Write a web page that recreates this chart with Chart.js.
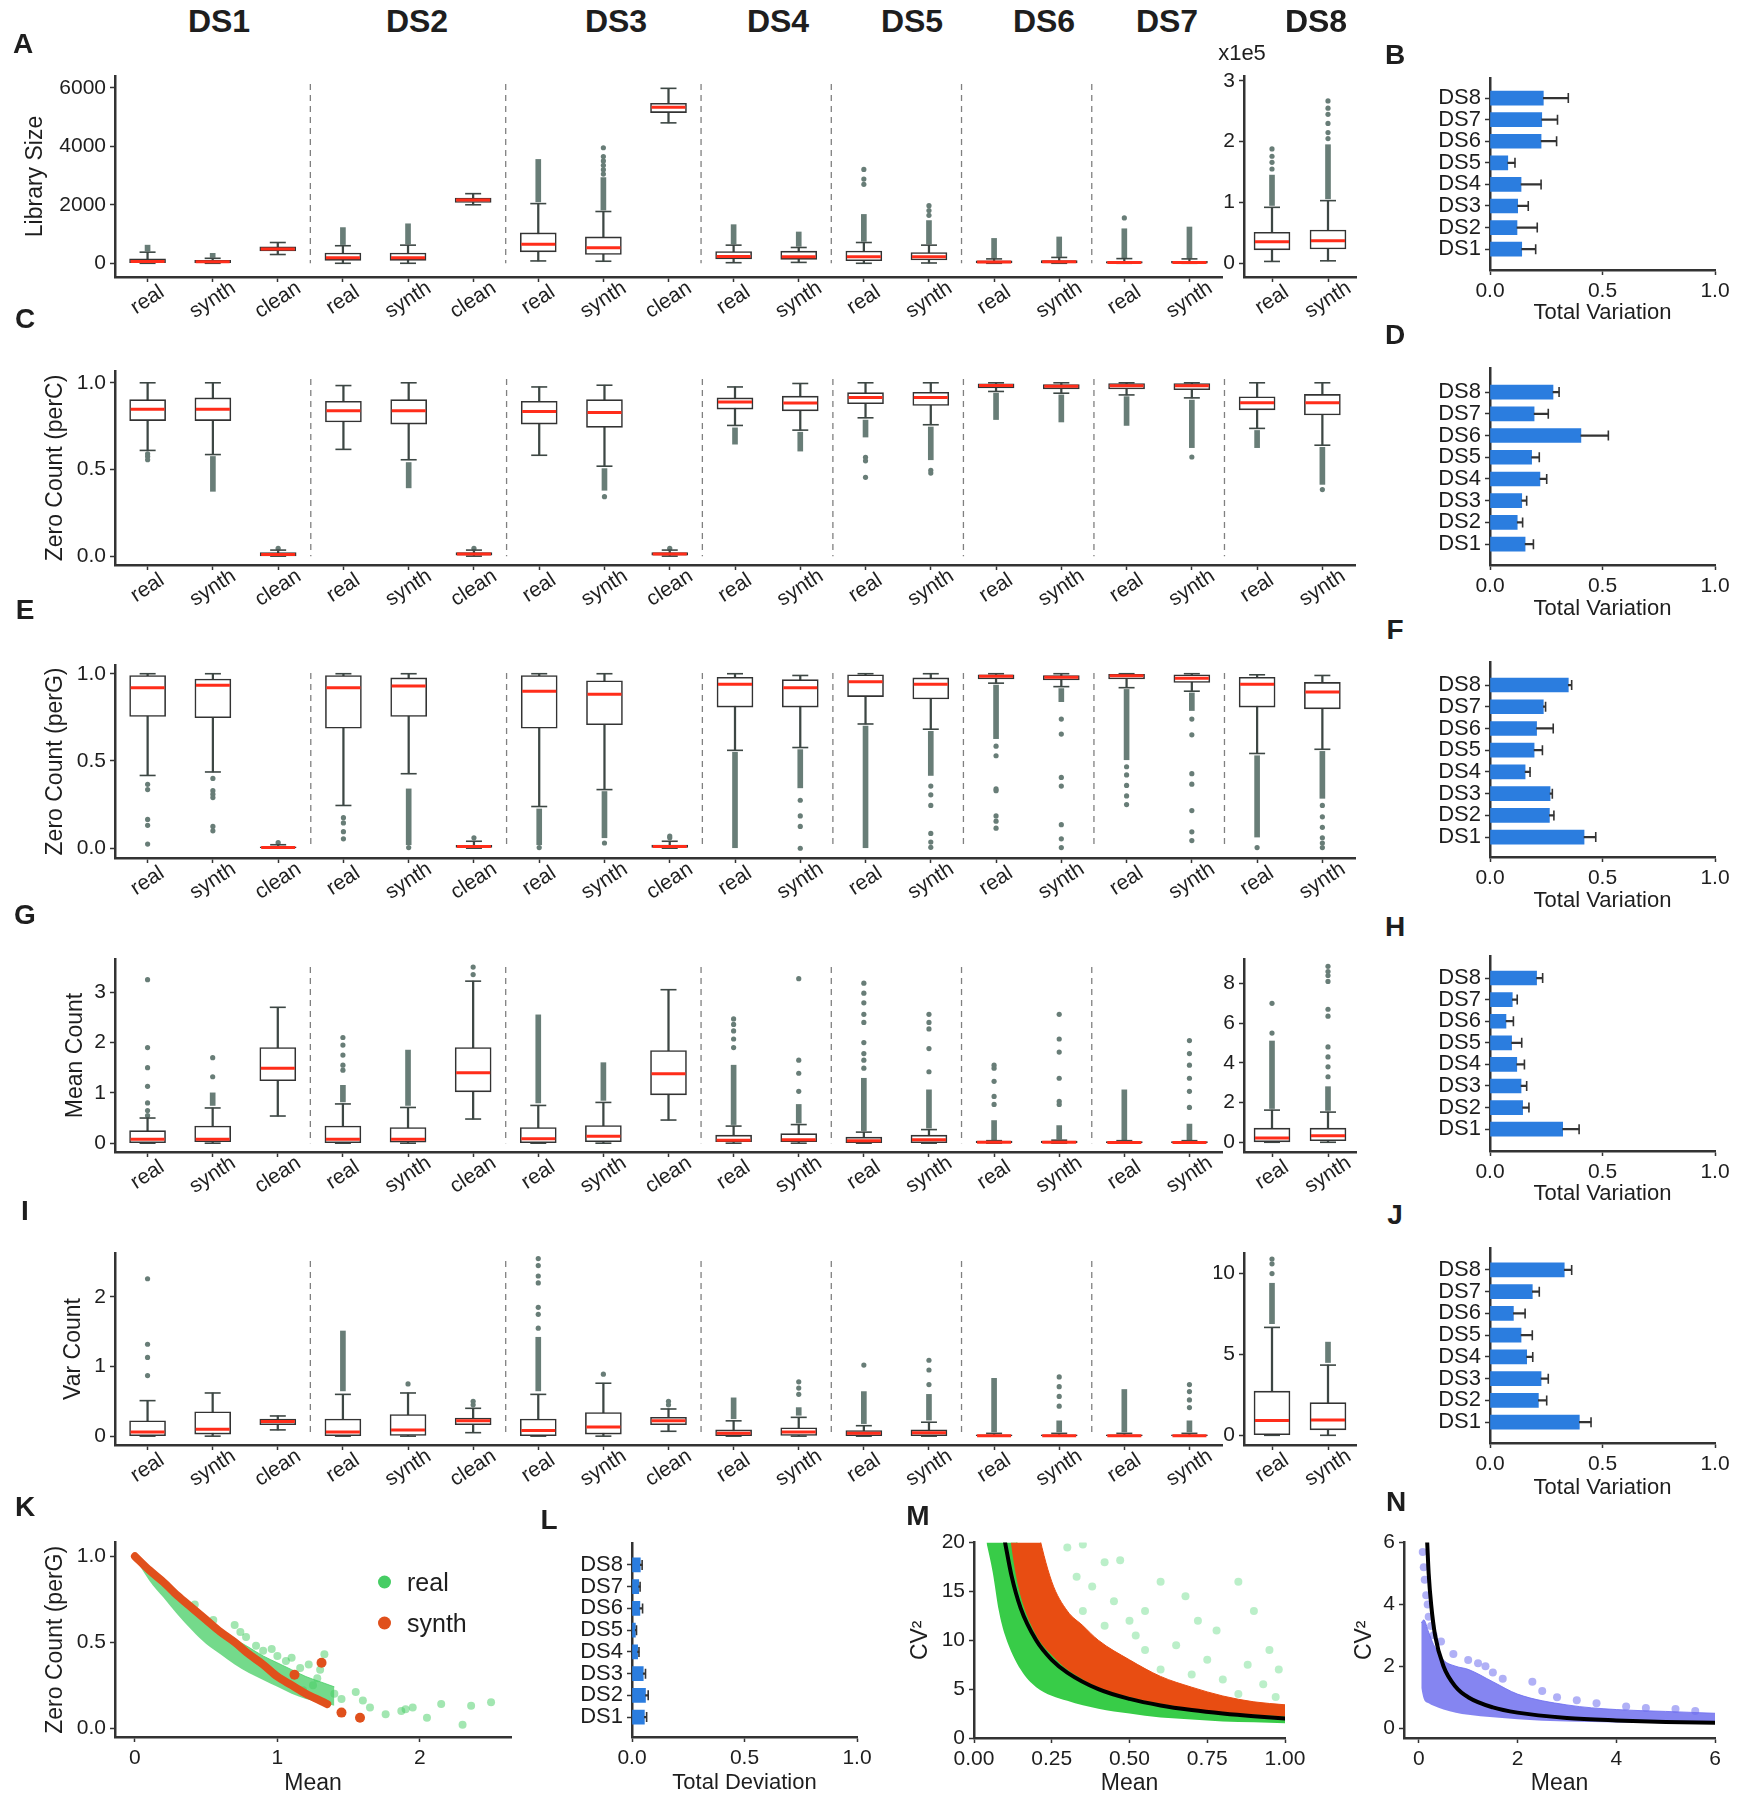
<!DOCTYPE html>
<html>
<head>
<meta charset="utf-8">
<script src="https://cdn.jsdelivr.net/npm/chart.js@4.4.1/dist/chart.umd.min.js"></script>
<style>
  html, body { margin: 0; padding: 0; background: #fff; }
  body { position: relative; width: 1740px; height: 1800px; overflow: hidden;
         font-family: "Liberation Sans", Arial, Helvetica, sans-serif; color: #1e1e1e; }
  canvas { position: absolute; }
  .t { position: absolute; transform: translate(-50%, -50%); white-space: nowrap; z-index: 2; }
  .ds { font-weight: bold; font-size: 32px; }
  .panel { font-weight: bold; font-size: 28px; }
  .unit { font-size: 22px; }
  .key { position: absolute; font-size: 25px; z-index: 2; display: flex; align-items: center; transform: translateY(-50%); }
  .key i { display: inline-block; width: 13px; height: 13px; border-radius: 50%; margin-right: 16px; }
</style>
</head>
<body>
<script>
// ---- data ----
const dsNames = ["DS1", "DS2", "DS3", "DS4", "DS5", "DS6", "DS7", "DS8"];
const groupLabels = ["real", "synth", "clean", "real", "synth", "clean", "real", "synth", "clean",
  "real", "synth", "real", "synth", "real", "synth", "real", "synth"];
const ds8Labels = ["real", "synth"];
const groupLabelsAll = groupLabels.concat(ds8Labels);

// box rows: [lower whisker, q1, median, q3, upper whisker]
const libBox = [
  [0, 20, 60, 150, 380], [0, 20, 50, 100, 170], [300, 420, 490, 560, 710],
  [0, 100, 190, 350, 600], [0, 100, 190, 350, 620], [2000, 2080, 2160, 2230, 2380],
  [80, 390, 650, 1040, 2040], [70, 300, 530, 900, 1770], [4800, 5150, 5330, 5470, 5980],
  [20, 150, 230, 400, 620], [30, 135, 225, 415, 540],
  [0, 90, 225, 420, 710], [10, 115, 225, 370, 620],
  [0, 10, 40, 80, 150], [0, 15, 50, 90, 200],
  [0, 5, 30, 60, 160], [0, 5, 30, 70, 150],
];
const libRuns = [[420, 620], [200, 340], null, [640, 1220], [660, 1350], null, [2100, 3550], [1820, 2930], null,
  [660, 1320], [580, 1070], [750, 1670], [660, 1460], [180, 850], [230, 900], [190, 1180], [180, 1240]];
const libDots = [[], [], [], [], [], [], [], [3050, 3200, 3350, 3500, 3650, 3950], [],
  [], [], [2700, 2880, 3210], [1640, 1800, 1970], [], [], [1550], []];
const libBox8 = [[0.03, 0.22, 0.355, 0.51, 0.92], [0.04, 0.235, 0.372, 0.546, 1.03]];
const libRuns8 = [[0.95, 1.45], [1.06, 1.95]];
const libDots8 = [[1.55, 1.66, 1.76, 1.88], [2.05, 2.15, 2.3, 2.45, 2.55, 2.67]];

const percBox = [
  [0.61, 0.782, 0.848, 0.903, 1.0], [0.586, 0.782, 0.848, 0.913, 1.0], [0, 0.002, 0.01, 0.02, 0.035],
  [0.616, 0.774, 0.838, 0.893, 0.984], [0.556, 0.762, 0.838, 0.903, 1.0], [0, 0.005, 0.012, 0.02, 0.035],
  [0.582, 0.762, 0.834, 0.893, 0.976], [0.519, 0.743, 0.828, 0.903, 0.986], [0, 0.006, 0.012, 0.02, 0.035],
  [0.754, 0.848, 0.889, 0.913, 0.976], [0.727, 0.838, 0.883, 0.923, 0.996],
  [0.798, 0.879, 0.915, 0.943, 1.0], [0.758, 0.869, 0.915, 0.945, 1.0],
  [0.95, 0.97, 0.984, 0.994, 1.0], [0.94, 0.965, 0.98, 0.99, 1.0],
  [0.93, 0.964, 0.983, 0.996, 1.0], [0.913, 0.96, 0.983, 0.996, 1.0],
  [0.737, 0.844, 0.885, 0.919, 1.0], [0.64, 0.814, 0.885, 0.933, 1.0],
];
const percRuns = [null, [0.374, 0.575], null, null, [0.394, 0.54], null, null, [0.38, 0.505], null,
  [0.646, 0.74], [0.606, 0.715], [0.687, 0.785], [0.556, 0.745], [0.788, 0.94], [0.774, 0.93],
  [0.754, 0.92], [0.626, 0.9], [0.626, 0.725], [0.414, 0.628]];
const percDots = [[0.59, 0.575, 0.556], [], [0.045], [], [], [0.045], [], [0.343], [0.045],
  [], [], [0.57, 0.55, 0.455], [0.495, 0.479], [], [], [], [0.572], [], [0.384]];

const pergBox = [
  [0.417, 0.755, 0.92, 0.99, 1.0], [0.437, 0.748, 0.934, 0.97, 1.0], [0, 0, 0.004, 0.008, 0.02],
  [0.245, 0.688, 0.92, 0.99, 1.0], [0.427, 0.755, 0.93, 0.976, 1.0], [0, 0.004, 0.01, 0.016, 0.04],
  [0.239, 0.688, 0.9, 0.99, 1.0], [0.336, 0.708, 0.883, 0.96, 1.0], [0, 0.004, 0.01, 0.018, 0.04],
  [0.561, 0.809, 0.94, 0.98, 1.0], [0.577, 0.809, 0.92, 0.966, 0.99],
  [0.712, 0.869, 0.954, 0.994, 1.0], [0.682, 0.855, 0.94, 0.976, 1.0],
  [0.946, 0.97, 0.985, 0.994, 1.0], [0.926, 0.964, 0.98, 0.99, 1.0],
  [0.92, 0.97, 0.988, 0.996, 1.0], [0.9, 0.95, 0.974, 0.994, 1.0],
  [0.543, 0.809, 0.94, 0.98, 0.994], [0.567, 0.799, 0.895, 0.95, 0.99],
];
const pergRuns = [null, null, null, null, [0.02, 0.34], null, [0.02, 0.225], [0.06, 0.325], null,
  [0.0, 0.55], [0.346, 0.565], [0.0, 0.7], [0.417, 0.67], [0.628, 0.935], [0.84, 0.915],
  [0.507, 0.91], [0.789, 0.89], [0.064, 0.53], [0.286, 0.555]];
const pergDots = [[0.366, 0.336, 0.165, 0.131, 0.024], [0.4, 0.33, 0.31, 0.29, 0.125, 0.1], [0.032],
  [0.175, 0.145, 0.095, 0.054], [0.004], [0.06], [0.004], [0.03], [0.06, 0.07],
  [], [0.275, 0.185, 0.125, 0.0], [], [0.356, 0.306, 0.245, 0.085, 0.035, 0.005],
  [0.585, 0.53, 0.34, 0.33, 0.185, 0.155, 0.115], [0.74, 0.654, 0.406, 0.356, 0.135, 0.054, 0.004],
  [0.467, 0.42, 0.36, 0.3, 0.25], [0.74, 0.65, 0.427, 0.367, 0.216, 0.094, 0.044],
  [0.004], [0.245, 0.18, 0.12, 0.06, 0.03, 0.004]];

const meanBox = [
  [0, 0.01, 0.08, 0.25, 0.5], [0, 0.03, 0.08, 0.34, 0.7], [0.54, 1.24, 1.49, 1.9, 2.7],
  [0, 0.01, 0.08, 0.34, 0.78], [0, 0.02, 0.08, 0.31, 0.71], [0.48, 1.02, 1.4, 1.9, 3.22],
  [0, 0.0, 0.09, 0.31, 0.75], [0, 0.03, 0.14, 0.35, 0.81], [0.46, 0.96, 1.38, 1.84, 3.05],
  [0, 0.03, 0.06, 0.16, 0.34], [0, 0.03, 0.07, 0.19, 0.37],
  [0, 0.01, 0.05, 0.12, 0.22], [0, 0.01, 0.07, 0.16, 0.27],
  [0, 0.0, 0.02, 0.04, 0.05], [0, 0.0, 0.02, 0.04, 0.06],
  [0, 0.0, 0.015, 0.03, 0.05], [0, 0.0, 0.015, 0.03, 0.05],
];
const meanRuns = [null, [0.75, 1.0], null, [0.82, 1.15], [0.75, 1.85], null, [0.8, 2.55], [0.85, 1.6], null,
  [0.37, 1.55], [0.4, 0.77], [0.25, 1.29], [0.3, 1.06], [0.07, 0.45], [0.08, 0.35], [0.07, 1.06], [0.07, 0.38]];
const meanDots = [[0.55, 0.65, 0.8, 1.13, 1.5, 1.9, 3.25], [1.32, 1.7], [], [1.45, 1.55, 1.75, 1.95, 2.1], [],
  [3.35, 3.5], [], [], [], [1.9, 2.07, 2.23, 2.36, 2.47], [1.03, 1.39, 1.65, 3.27],
  [1.49, 1.65, 1.78, 2.0, 2.4, 2.56, 2.79, 2.98, 3.18], [1.42, 1.88, 2.27, 2.4, 2.56],
  [0.77, 0.93, 1.23, 1.49, 1.55], [0.77, 0.83, 1.29, 1.81, 2.07, 2.56], [], [0.71, 1.03, 1.29, 1.55, 1.78, 2.04]];
const meanBox8 = [[0, 0.02, 0.21, 0.71, 1.62], [0, 0.08, 0.33, 0.71, 1.52]];
const meanRuns8 = [[1.7, 5.1], [1.6, 2.8]];
const meanDots8 = [[5.5, 7.0], [3.3, 3.8, 4.3, 4.8, 6.35, 6.7, 8.1, 8.4, 8.6, 8.86]];

const varBox = [
  [0, 0.0, 0.06, 0.22, 0.51], [0, 0.03, 0.1, 0.35, 0.62], [0.09, 0.165, 0.21, 0.245, 0.29],
  [0, 0.0, 0.06, 0.245, 0.6], [0, 0.01, 0.09, 0.31, 0.62], [0.05, 0.165, 0.22, 0.26, 0.4],
  [0, 0.0, 0.08, 0.245, 0.6], [0, 0.03, 0.13, 0.34, 0.76], [0.07, 0.165, 0.22, 0.27, 0.39],
  [0, 0.0, 0.04, 0.09, 0.22], [0, 0.01, 0.06, 0.12, 0.27],
  [0, 0.0, 0.04, 0.08, 0.15], [0, 0.0, 0.05, 0.09, 0.2],
  [0, 0.0, 0.005, 0.02, 0.04], [0, 0.0, 0.005, 0.02, 0.04],
  [0, 0.0, 0.005, 0.02, 0.04], [0, 0.0, 0.005, 0.02, 0.04],
];
const varRuns = [null, null, null, [0.65, 1.51], null, null, [0.65, 1.42], null, null,
  [0.25, 0.55], [0.3, 0.41], [0.18, 0.64], [0.23, 0.6], [0.06, 0.83], [0.06, 0.22], [0.06, 0.67], [0.06, 0.22]];
const varDots = [[0.87, 1.13, 1.32, 2.26], [], [], [], [0.75], [0.45, 0.5],
  [1.55, 1.75, 1.85, 2.2, 2.3, 2.45, 2.55], [0.89], [0.45, 0.5], [], [0.6, 0.69, 0.78], [1.02],
  [0.74, 0.95, 1.09], [], [0.43, 0.57, 0.71, 0.85], [], [0.41, 0.52, 0.64, 0.74]];
const varBox8 = [[0, 0.0, 0.91, 2.73, 6.67], [0, 0.34, 0.95, 2.02, 4.34]];
const varRuns8 = [[6.9, 9.4], [4.5, 5.76]];
const varDots8 = [[10.0, 10.6, 10.9], []];

// total variation bars, DS1..DS8
const tvLib = [0.141, 0.12, 0.123, 0.138, 0.079, 0.227, 0.23, 0.237];
const tvLibErr = [0.062, 0.09, 0.047, 0.089, 0.032, 0.069, 0.07, 0.111];
const tvPerc = [0.156, 0.121, 0.141, 0.222, 0.185, 0.404, 0.196, 0.28];
const tvPercErr = [0.037, 0.024, 0.022, 0.03, 0.034, 0.122, 0.063, 0.027];
const tvPerg = [0.418, 0.264, 0.267, 0.156, 0.196, 0.207, 0.237, 0.348];
const tvPergErr = [0.052, 0.02, 0.01, 0.022, 0.037, 0.074, 0.01, 0.015];
const tvMean = [0.323, 0.145, 0.138, 0.119, 0.096, 0.071, 0.099, 0.207];
const tvMeanErr = [0.073, 0.028, 0.025, 0.034, 0.045, 0.033, 0.022, 0.027];
const tvVar = [0.397, 0.215, 0.227, 0.163, 0.138, 0.104, 0.188, 0.33];
const tvVarErr = [0.052, 0.037, 0.032, 0.027, 0.05, 0.052, 0.031, 0.033];
const devVals = [0.055, 0.06, 0.05, 0.025, 0.015, 0.035, 0.03, 0.037];
const devErr = [0.01, 0.012, 0.01, 0.006, 0.005, 0.012, 0.006, 0.008];

// K: zero count vs mean
const kBandX = [0, 0.1, 0.2, 0.3, 0.4, 0.5, 0.6, 0.7, 0.8, 0.9, 1.0, 1.1, 1.2, 1.3, 1.4];
const kBandLow = [0.99, 0.86, 0.76, 0.66, 0.57, 0.49, 0.43, 0.37, 0.32, 0.28, 0.24, 0.2, 0.17, 0.15, 0.13];
const kBandHigh = [1.0, 0.94, 0.87, 0.79, 0.71, 0.64, 0.58, 0.52, 0.47, 0.42, 0.38, 0.34, 0.3, 0.27, 0.24];
const kSynthX = [0, 0.1, 0.2, 0.3, 0.4, 0.5, 0.6, 0.7, 0.8, 0.9, 1.0, 1.1, 1.2, 1.3, 1.35];
const kSynthY = [1.0, 0.92, 0.85, 0.77, 0.7, 0.63, 0.56, 0.5, 0.43, 0.37, 0.3, 0.25, 0.2, 0.16, 0.14];
const kSynthPts = [[1.31, 0.38], [1.45, 0.09], [1.58, 0.06], [1.12, 0.31]];
const kRealPts = [[0.42, 0.72], [0.55, 0.63], [0.7, 0.6], [0.74, 0.56], [0.78, 0.53], [0.85, 0.48], [0.9, 0.45],
  [0.96, 0.46], [1.0, 0.42], [1.06, 0.39], [1.1, 0.41], [1.16, 0.35], [1.22, 0.37], [1.3, 0.34], [1.33, 0.43],
  [1.28, 0.29], [1.25, 0.25], [1.4, 0.2], [1.55, 0.21], [1.6, 0.16], [1.65, 0.12], [1.76, 0.08], [1.87, 0.1],
  [1.95, 0.12], [2.05, 0.06], [2.15, 0.14], [2.3, 0.02], [2.36, 0.13], [2.5, 0.15], [1.9, 0.11], [1.45, 0.17], [1.18, 0.22]];

// M: CV^2 vs mean, real vs synth
const mGreenX = [0.04, 0.06, 0.08, 0.1, 0.15, 0.2, 0.3, 0.4, 0.5, 0.6, 0.7, 0.8, 0.9, 1.0];
const mGreenLow = [20, 17, 13, 10.5, 7, 5.2, 3.8, 3.0, 2.5, 2.1, 1.9, 1.7, 1.6, 1.5];
const mGreenHigh = [30, 30, 30, 30, 17, 13, 8.5, 6.5, 5.2, 4.4, 3.8, 3.3, 3.0, 2.8];
const mSynthX = [0.11, 0.13, 0.15, 0.2, 0.25, 0.3, 0.35, 0.4, 0.5, 0.6, 0.7, 0.8, 0.9, 1.0];
const mSynthLow = [22, 17.5, 14.5, 10.5, 8.5, 7, 6, 5.2, 4.2, 3.5, 3.0, 2.6, 2.4, 2.2];
const mSynthHigh = [30, 30, 30, 22, 16, 13, 11.5, 10, 8, 6.3, 5.2, 4.3, 3.7, 3.4];
const mRealPts = [[0.3, 19.5], [0.35, 19.8], [0.42, 18], [0.47, 18.2], [0.38, 15.5], [0.45, 14], [0.5, 12],
  [0.55, 13], [0.6, 16], [0.68, 14.5], [0.72, 12], [0.78, 11], [0.85, 16], [0.9, 13], [0.95, 9], [0.65, 9.5],
  [0.75, 8], [0.88, 7.5], [0.98, 7], [0.55, 9], [0.42, 11.5], [0.6, 7], [0.8, 6], [0.93, 5.5], [0.35, 13],
  [0.7, 6.5], [0.85, 4.5], [0.33, 16.5], [0.52, 10.5], [0.97, 4.2]];
const mFit = [[0.1, 20], [0.12, 16.7], [0.15, 13.3], [0.2, 10], [0.25, 8], [0.3, 6.7], [0.4, 5], [0.5, 4],
  [0.6, 3.33], [0.7, 2.86], [0.8, 2.5], [0.9, 2.22], [1.0, 2.0]];

// N: CV^2 vs mean, clean
const nBandX = [0.05, 0.1, 0.2, 0.3, 0.5, 0.75, 1, 1.5, 2, 3, 4, 5, 6];
const nBandLow = [1.3, 0.95, 0.8, 0.72, 0.6, 0.5, 0.43, 0.35, 0.29, 0.21, 0.18, 0.16, 0.14];
const nBandHigh = [3.4, 3.5, 3.1, 2.7, 2.2, 2.0, 1.9, 1.5, 1.1, 0.75, 0.6, 0.54, 0.48];
const nPts = [[0.08, 5.7], [0.1, 5.2], [0.12, 4.8], [0.15, 4.3], [0.18, 4.0], [0.2, 3.6], [0.25, 3.3], [0.3, 3.0],
  [0.45, 2.8], [0.7, 2.4], [1.0, 2.2], [1.2, 2.1], [1.35, 2.0], [1.5, 1.8], [1.7, 1.6], [2.3, 1.5], [2.5, 1.2],
  [2.8, 1.0], [3.2, 0.9], [3.6, 0.8], [4.2, 0.7], [4.6, 0.65], [5.2, 0.62], [5.6, 0.55]];
const nFit = [[0.17, 6], [0.2, 5], [0.25, 4], [0.33, 3], [0.5, 2], [0.75, 1.33], [1, 1], [1.5, 0.67], [2, 0.5],
  [3, 0.33], [4, 0.25], [5, 0.2], [6, 0.17]];

// tick values and their labels
const libTicks = [0, 2000, 4000, 6000], libTickText = ["0", "2000", "4000", "6000"];
const lib8Ticks = [0, 1, 2, 3], lib8TickText = ["0", "1", "2", "3"];
const fracTicks = [0, 0.5, 1], fracTickText = ["0.0", "0.5", "1.0"];
const meanTicks = [0, 1, 2, 3], meanTickText = ["0", "1", "2", "3"];
const mean8Ticks = [0, 2, 4, 6, 8], mean8TickText = ["0", "2", "4", "6", "8"];
const varTicks = [0, 1, 2], varTickText = ["0", "1", "2"];
const var8Ticks = [0, 5, 10], var8TickText = ["0", "5", "10"];
const dsTicks = [1, 2, 3, 4, 5, 6, 7, 8];
const kXTicks = [0, 1, 2], kXTickText = ["0", "1", "2"];
const mXTicks = [0, 0.25, 0.5, 0.75, 1], mXTickText = ["0.00", "0.25", "0.50", "0.75", "1.00"];
const mYTicks = [0, 5, 10, 15, 20], mYTickText = ["0", "5", "10", "15", "20"];
const nTicks = [0, 2, 4, 6], nTickText = ["0", "2", "4", "6"];

// ---- style ----
const FONT = '"Liberation Sans", Arial, Helvetica, sans-serif';
const INK = "#1e1e1e";
const DOT = "#687d77";
const WHISK = "#3d4744";
const EDGE = "#333333";
const RED = "#ff2d1a";
const BLUE = "#2b7ddf";
Chart.defaults.font.family = FONT;
Chart.defaults.color = INK;

const groupCuts = [2.5, 5.5, 8.5, 10.5, 12.5, 14.5];
const groupCutsAll = groupCuts.concat([16.5]);

function mount(area, pad) {
  const c = document.createElement("canvas");
  const w = area[2] - area[0] + pad.l + pad.r;
  const h = area[3] - area[1] + pad.t + pad.b;
  c.width = w;
  c.height = h;
  c.style.left = area[0] - pad.l + "px";
  c.style.top = area[1] - pad.t + "px";
  c.style.width = w + "px";
  c.style.height = h + "px";
  document.body.appendChild(c);
  return c;
}

function axis(o) {
  return {
    type: "linear",
    min: o.min,
    max: o.max,
    offset: false,
    afterBuildTicks: (s) => { s.ticks = o.ticks.map((v) => ({ value: v })); },
    afterFit: (s) => { if (s.isHorizontal()) s.height = o.size; else s.width = o.size; },
    ticks: {
      display: !!o.text, autoSkip: false, maxRotation: 0, minRotation: 0, padding: 4,
      font: { size: o.font || 21 }, color: INK,
      callback: (v, i) => (o.text ? o.text[i] : ""),
    },
    grid: { display: true, offset: false, drawOnChartArea: false, drawTicks: true, tickLength: 5, tickColor: EDGE, tickWidth: 1.5 },
    border: { display: true, color: EDGE, width: 2.5 },
    title: o.title
      ? { display: true, text: o.title, font: { size: o.titleSize || 23 }, color: INK, padding: 0 }
      : { display: false },
  };
}

function makeChart(area, pad, config) {
  const cv = mount(area, pad);
  config.options = Object.assign({
    responsive: false, devicePixelRatio: 1, animation: false, events: [],
    layout: { padding: { left: 0, top: pad.t, right: pad.r, bottom: 0 } },
    plugins: { legend: { display: false }, tooltip: { enabled: false } },
  }, config.options);
  return new Chart(cv.getContext("2d"), config);
}

function boxSets(box, runs, dots) {
  return [
    { type: "bar", order: 6, grouped: false, barThickness: 1.6, backgroundColor: WHISK,
      data: box.map((b, i) => ({ x: i, y: [b[0], b[4]] })) },
    { type: "bar", order: 5, grouped: false, barThickness: 5, backgroundColor: DOT,
      data: runs.map((r, i) => (r ? { x: i, y: r } : null)).filter(Boolean) },
    { type: "scatter", order: 4, pointRadius: 2.6, pointBackgroundColor: DOT, pointBorderWidth: 0,
      data: dots.flatMap((d, i) => d.map((v) => ({ x: i, y: v }))) },
    { type: "scatter", order: 3, pointStyle: "line", pointRadius: 8, pointBorderColor: WHISK, pointBorderWidth: 1.6,
      data: box.flatMap((b, i) => [{ x: i, y: b[0] }, { x: i, y: b[4] }]) },
    { type: "bar", order: 2, grouped: false, barThickness: 36, backgroundColor: "#fff",
      borderColor: EDGE, borderWidth: 1.6, borderSkipped: false,
      data: box.map((b, i) => ({ x: i, y: [b[1], b[3]] })) },
    { type: "scatter", order: 1, pointStyle: "line", pointRadius: 17, pointBorderColor: RED, pointBorderWidth: 3,
      data: box.map((b, i) => ({ x: i, y: b[2] })) },
  ];
}

function boxDecor(names, cuts) {
  return {
    id: "boxDecor",
    beforeDatasetsDraw(chart) {
      const { ctx, chartArea, scales: { x, y } } = chart;
      ctx.save();
      ctx.strokeStyle = "#808080";
      ctx.lineWidth = 1.3;
      ctx.setLineDash([6, 5]);
      cuts.forEach((c) => {
        const px = x.getPixelForValue(c);
        ctx.beginPath();
        ctx.moveTo(px, chartArea.top + 8);
        ctx.lineTo(px, y.getPixelForValue(0));
        ctx.stroke();
      });
      ctx.restore();
    },
    afterDraw(chart) {
      const { ctx, chartArea, scales: { x } } = chart;
      ctx.save();
      ctx.font = "21px " + FONT;
      ctx.fillStyle = INK;
      ctx.textAlign = "center";
      ctx.textBaseline = "middle";
      names.forEach((t, i) => {
        ctx.save();
        ctx.translate(x.getPixelForValue(i), chartArea.bottom + 23);
        ctx.rotate((-33 * Math.PI) / 180);
        ctx.fillText(t, 0, 0);
        ctx.restore();
      });
      ctx.restore();
    },
  };
}

function boxChart(area, pad, o) {
  const n = o.box.length;
  return makeChart(area, pad, {
    type: "bar",
    data: { datasets: boxSets(o.box, o.runs, o.dots) },
    options: {
      scales: {
        x: axis({ min: -0.5, max: n - 0.5, ticks: o.box.map((_, i) => i), size: pad.b }),
        y: axis({ min: o.min, max: o.max, ticks: o.ticks, text: o.tickText, size: pad.l, title: o.title }),
      },
    },
    plugins: [boxDecor(o.names, o.cuts || [])],
  });
}

function tvChart(area, pad, o) {
  return makeChart(area, pad, {
    type: "bar",
    data: {
      datasets: [
        { order: 3, grouped: false, barThickness: 14, backgroundColor: BLUE,
          data: o.vals.map((v, i) => ({ x: v, y: i + 1 })) },
        { order: 2, grouped: false, barThickness: 1.6, backgroundColor: EDGE,
          data: o.vals.map((v, i) => ({ x: [v, v + o.errs[i]], y: i + 1 })) },
        { type: "scatter", order: 1, indexAxis: "x", pointStyle: "line", pointRotation: 90, pointRadius: 5,
          pointBorderColor: EDGE, pointBorderWidth: 1.6,
          data: o.vals.map((v, i) => ({ x: v + o.errs[i], y: i + 1 })) },
      ],
    },
    options: {
      indexAxis: "y",
      scales: {
        x: axis({ min: 0, max: 1, ticks: fracTicks, text: fracTickText, size: pad.b, title: o.title, titleSize: 22 }),
        y: axis({ min: o.min, max: o.max, ticks: dsTicks, text: dsNames, size: pad.l, font: 22 }),
      },
    },
  });
}

const zip = (xs, ys) => xs.map((x, i) => ({ x, y: ys[i] }));
const pts = (pairs) => pairs.map((p) => ({ x: p[0], y: p[1] }));
const edge = (data, order) => ({ type: "line", data, order, borderColor: "rgba(0,0,0,0)", borderWidth: 1,
  pointRadius: 0, fill: false, cubicInterpolationMode: "monotone" });
const band = (data, order, color) => ({ type: "line", data, order, borderColor: color, borderWidth: 1,
  backgroundColor: color, pointRadius: 0, fill: "-1", cubicInterpolationMode: "monotone" });
const cloud = (data, order, color, r) => ({ type: "scatter", data, order, pointRadius: r,
  pointBackgroundColor: color, pointBorderWidth: 0 });
const curve = (data, order, color, w) => ({ type: "line", data, order, borderColor: color, borderWidth: w,
  pointRadius: 0, fill: false, cubicInterpolationMode: "monotone", borderCapStyle: "round" });

// ---- row A / B ----
boxChart([115, 72, 1240, 277], { l: 93, t: 16, r: 2, b: 62 }, {
  box: libBox, runs: libRuns, dots: libDots, names: groupLabels, cuts: groupCuts,
  min: -469, max: 6402, ticks: libTicks, tickText: libTickText, title: "Library Size" });
boxChart([1244, 72, 1372, 277], { l: 30, t: 16, r: 4, b: 62 }, {
  box: libBox8, runs: libRuns8, dots: libDots8, names: ds8Labels,
  min: -0.226, max: 3.08, ticks: lib8Ticks, tickText: lib8TickText });
tvChart([1490, 77, 1715, 270], { l: 60, t: 16, r: 22, b: 56 }, {
  vals: tvLib, errs: tvLibErr, min: 0.033, max: 8.92, title: "Total Variation" });

// ---- row C / D ----
boxChart([115, 367, 1373, 565], { l: 73, t: 16, r: 2, b: 62 }, {
  box: percBox, runs: percRuns, dots: percDots, names: groupLabelsAll, cuts: groupCutsAll,
  min: -0.051, max: 1.068, ticks: fracTicks, tickText: fracTickText, title: "Zero Count (perC)" });
tvChart([1490, 367, 1715, 565], { l: 60, t: 16, r: 22, b: 57 }, {
  vals: tvPerc, errs: tvPercErr, min: 0.04, max: 9.1, title: "Total Variation" });

// ---- row E / F ----
boxChart([115, 661, 1373, 858], { l: 73, t: 16, r: 2, b: 62 }, {
  box: pergBox, runs: pergRuns, dots: pergDots, names: groupLabelsAll, cuts: groupCutsAll,
  min: -0.056, max: 1.05, ticks: fracTicks, tickText: fracTickText, title: "Zero Count (perG)" });
tvChart([1490, 661, 1715, 857], { l: 60, t: 16, r: 22, b: 57 }, {
  vals: tvPerg, errs: tvPergErr, min: 0.085, max: 9.05, title: "Total Variation" });

// ---- row G / H ----
boxChart([115, 955, 1240, 1152], { l: 53, t: 16, r: 2, b: 62 }, {
  box: meanBox, runs: meanRuns, dots: meanDots, names: groupLabels, cuts: groupCuts,
  min: -0.175, max: 3.66, ticks: meanTicks, tickText: meanTickText, title: "Mean Count" });
boxChart([1244, 955, 1372, 1152], { l: 30, t: 16, r: 4, b: 62 }, {
  box: meanBox8, runs: meanRuns8, dots: meanDots8, names: ds8Labels,
  min: -0.49, max: 9.23, ticks: mean8Ticks, tickText: mean8TickText });
tvChart([1490, 955, 1715, 1151], { l: 60, t: 16, r: 22, b: 56 }, {
  vals: tvMean, errs: tvMeanErr, min: -0.01, max: 9.01, title: "Total Variation" });

// ---- row I / J ----
boxChart([115, 1249, 1240, 1445], { l: 55, t: 16, r: 2, b: 62 }, {
  box: varBox, runs: varRuns, dots: varDots, names: groupLabels, cuts: groupCuts,
  min: -0.127, max: 2.63, ticks: varTicks, tickText: varTickText, title: "Var Count" });
boxChart([1244, 1249, 1372, 1445], { l: 30, t: 16, r: 4, b: 62 }, {
  box: varBox8, runs: varRuns8, dots: varDots8, names: ds8Labels,
  min: -0.6, max: 11.27, ticks: var8Ticks, tickText: var8TickText });
tvChart([1490, 1247, 1715, 1443], { l: 60, t: 16, r: 22, b: 58 }, {
  vals: tvVar, errs: tvVarErr, min: 0.04, max: 9.0, title: "Total Variation" });

// ---- K ----
makeChart([115, 1542, 511, 1737], { l: 73, t: 16, r: 20, b: 60 }, {
  type: "scatter",
  data: {
    datasets: [
      edge(zip(kBandX, kBandLow), 6),
      band(zip(kBandX, kBandHigh), 5, "rgba(70,205,100,0.75)"),
      cloud(pts(kRealPts), 4, "rgba(70,205,100,0.5)", 4),
      curve(zip(kSynthX, kSynthY), 3, "#e0501c", 8),
      cloud(pts(kSynthPts), 2, "#e0501c", 5),
    ],
  },
  options: {
    scales: {
      x: axis({ min: -0.14, max: 2.64, ticks: kXTicks, text: kXTickText, size: 60, title: "Mean" }),
      y: axis({ min: -0.052, max: 1.08, ticks: fracTicks, text: fracTickText, size: 73, title: "Zero Count (perG)" }),
    },
  },
});

// ---- L ----
tvChart([632, 1542, 857, 1737], { l: 60, t: 16, r: 22, b: 59 }, {
  vals: devVals, errs: devErr, min: 0.085, max: 9.0, title: "Total Deviation" });

// ---- M ----
makeChart([974, 1542, 1285, 1738], { l: 67, t: 16, r: 25, b: 59 }, {
  type: "scatter",
  data: {
    datasets: [
      edge(zip(mGreenX, mGreenLow), 9),
      band(zip(mGreenX, mGreenHigh), 8, "#38cc48"),
      edge(zip(mSynthX, mSynthLow), 7),
      band(zip(mSynthX, mSynthHigh), 6, "#e84d12"),
      cloud(pts(mRealPts), 5, "rgba(60,210,100,0.35)", 4),
      curve(pts(mFit), 1, "#000", 4),
    ],
  },
  options: {
    scales: {
      x: axis({ min: 0, max: 1, ticks: mXTicks, text: mXTickText, size: 59, title: "Mean" }),
      y: axis({ min: 0, max: 20, ticks: mYTicks, text: mYTickText, size: 67, title: "CV²" }),
    },
  },
});

// ---- N ----
makeChart([1404, 1542, 1715, 1738], { l: 53, t: 16, r: 22, b: 59 }, {
  type: "scatter",
  data: {
    datasets: [
      edge(zip(nBandX, nBandLow), 5),
      band(zip(nBandX, nBandHigh), 4, "rgba(112,112,238,0.85)"),
      cloud(pts(nPts), 3, "rgba(112,112,238,0.55)", 4),
      curve(pts(nFit), 1, "#000", 4),
    ],
  },
  options: {
    scales: {
      x: axis({ min: -0.3, max: 6, ticks: nTicks, text: nTickText, size: 59, title: "Mean" }),
      y: axis({ min: -0.32, max: 6, ticks: nTicks, text: nTickText, size: 53, title: "CV²" }),
    },
  },
});

// ---- text ----
function label(cls, str, x, y) {
  const d = document.createElement("div");
  d.className = "t " + cls;
  d.textContent = str;
  d.style.left = x + "px";
  d.style.top = y + "px";
  document.body.appendChild(d);
}
const headerX = [219, 417, 616, 778, 912, 1044, 1167, 1316];
dsNames.forEach((s, i) => label("ds", s, headerX[i], 21));
[["A", 23, 44], ["B", 1395, 55], ["C", 25, 319], ["D", 1395, 335], ["E", 25, 610], ["F", 1395, 630],
 ["G", 25, 915], ["H", 1395, 927], ["I", 25, 1211], ["J", 1395, 1215], ["K", 25, 1507], ["L", 549, 1520],
 ["M", 918, 1516], ["N", 1396, 1502]].forEach((p) => label("panel", p[0], p[1], p[2]));
label("unit", "x1e5", 1242, 53);

[["real", "#46cd64", 1582], ["synth", "#e0501c", 1623]].forEach(([name, color, y]) => {
  const k = document.createElement("div");
  k.className = "key";
  k.style.left = "378px";
  k.style.top = y + "px";
  k.innerHTML = '<i style="background:' + color + '"></i>' + name;
  document.body.appendChild(k);
});
</script>
</body>
</html>
